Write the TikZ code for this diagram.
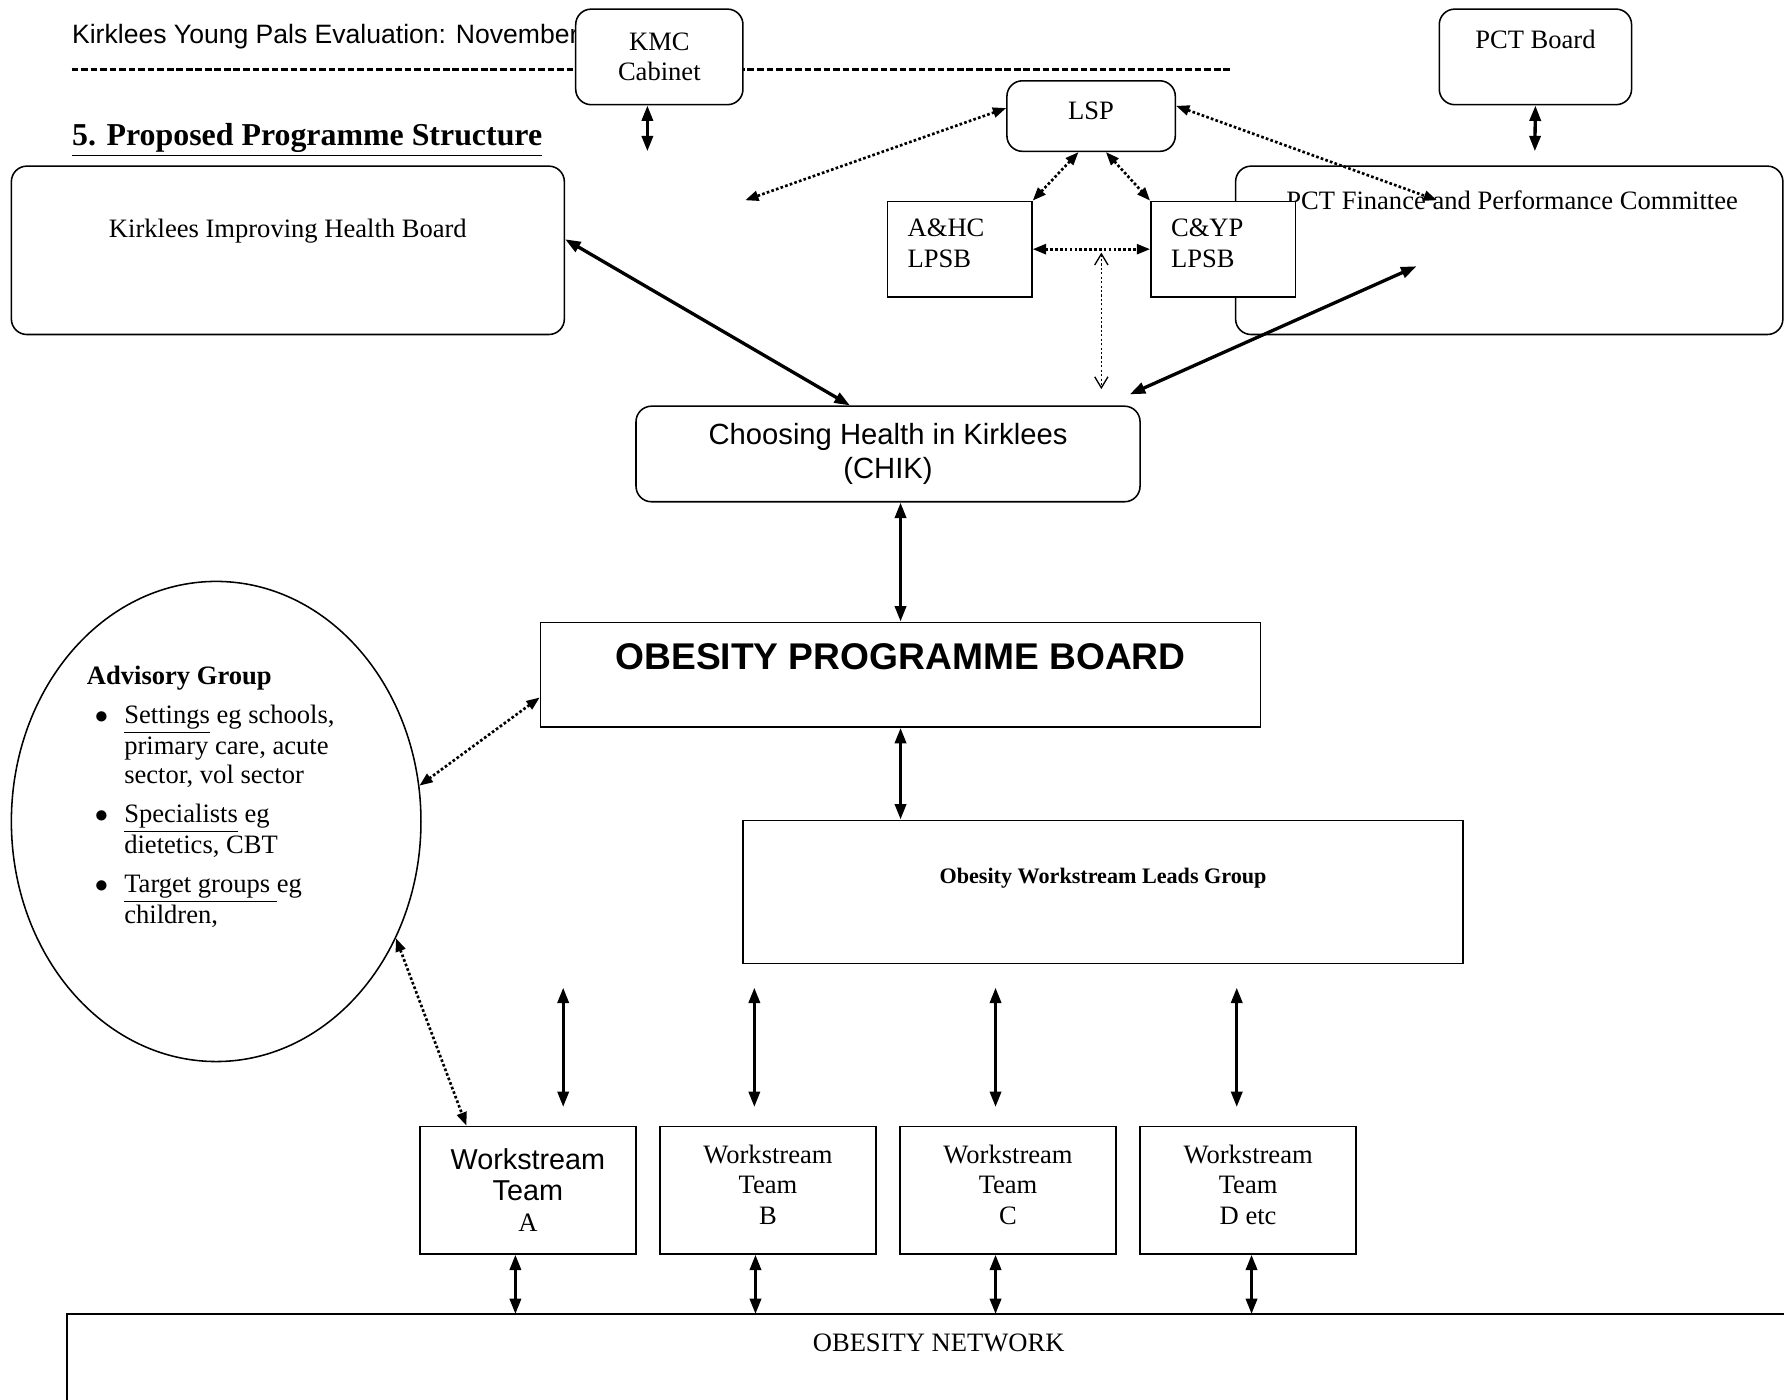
\documentclass[tikz,border=0pt]{standalone}
\usepackage{fontspec}
\setmainfont{Liberation Serif}
\newfontfamily\arialfont{Liberation Sans}
\usetikzlibrary{arrows.meta,shapes.geometric,positioning,calc}

\newlength{\unitpx}
\setlength{\unitpx}{0.514pt}
\newcommand{\wsfont}{\arialfont\fontsize{13}{15}\selectfont}

\tikzstyle{rbox} = [
    rectangle, rounded corners=7pt,
    draw, line width=0.7pt,
    fill=white,
]
\tikzstyle{sbox} = [
    rectangle,
    draw, line width=0.7pt,
    fill=white,
]
\tikzset{sz/.style 2 args={minimum width=#1*\unitpx, minimum height=#2*\unitpx}}
\tikzstyle{lpsb} = [
    sbox, sz={127}{84},
    align=left, text width=47pt, inner xsep=9pt,
    text depth=19pt,
]
\tikzstyle{link} = [<->, >={Triangle[length=7pt,width=5pt]}, line width=1.5pt]
\tikzstyle{dotlink} = [<->, >={Triangle[length=6pt,width=4.5pt]}, line width=1.2pt, dash pattern=on 1.2pt off 1pt]
\tikzstyle{openlink} = [<->, >={Straight Barb[length=5pt,width=6pt]}, line width=0.6pt, dash pattern=on 1pt off 1pt]

\begin{document}
\begin{tikzpicture}[x=\unitpx, y=-\unitpx, font=\fontsize{12}{13.8}\selectfont]
    \useasboundingbox (0,0) rectangle (1568,1230);

    % page header
    \node[anchor=west, inner sep=0, font=\arialfont\fontsize{12}{14}\selectfont] (header) at (63,32) {Kirklees Young Pals Evaluation: November};
    \coordinate (rulea) at (63,61);
    \coordinate (ruleb) at (1083,61);
    \draw[line width=1.1pt, dash pattern=on 3pt off 1.3pt] (rulea) -- (ruleb);
    \node[anchor=west, inner sep=0, font=\bfseries\fontsize{14.4}{16}\selectfont] (heading) at (63,123) {\underline{5. Proposed Programme Structure}};

    % top level boxes
    \node[rbox, sz={147}{84}, align=center] (kmc) at (579.5,50) {KMC\\Cabinet};
    \node[rbox, sz={169}{84}] (pctboard) at (1349.5,50) {};
    \node (pctboardtxt) at ([yshift=7.7pt]pctboard.center) {PCT Board};
    \node[rbox, sz={148}{62}, text depth=5pt] (lsp) at (959,102) {LSP};

    \node[rbox, sz={486}{148}] (kihb) at (253,220) {};
    \node (kihbtxt) at ([yshift=8.7pt]kihb.center) {Kirklees Improving Health Board};
    \node[rbox, sz={481}{148}] (pctfin) at (1326.5,220) {};
    \node (pctfintxt) at ([shift={(1.3pt,22.6pt)}]pctfin.center) {PCT Finance and Performance Committee};

    \node[lpsb] (ahc) at (843.5,219) {A\&HC\\LPSB};
    \node[lpsb] (cyp) at (1075,219) {C\&YP\\LPSB};

    % programme boxes
    \node[rbox, sz={443}{84}, align=center, font=\arialfont\fontsize{13.2}{15}\selectfont] (chik) at (780.5,399) {Choosing Health in Kirklees\\(CHIK)};
    \node[sbox, sz={633}{92}] (opb) at (791.5,593) {};
    \node[font=\arialfont\bfseries\fontsize{16.8}{19}\selectfont] (opbtxt) at ([yshift=8.2pt]opb.center) {OBESITY PROGRAMME BOARD};
    \node[sbox, sz={633}{126}] (owlg) at (969.5,784) {};
    \node[font=\bfseries] (owlgtxt) at ([yshift=6.2pt]owlg.center) {Obesity Workstream Leads Group};

    % advisory group
    \node[ellipse, draw, line width=0.7pt, minimum width=360*\unitpx, minimum height=422*\unitpx] (advisory) at (190,722) {};
    \node[anchor=north west, inner sep=0, font=\fontsize{12}{13.4}\selectfont] (advtxt) at (76,583) {%
        \begin{tabular}{@{\hspace{3.6pt}}p{13.3pt}@{}l@{}}
        \multicolumn{2}{@{}l@{}}{\textbf{Advisory Group}}\\[4.1pt]
        $\bullet$ & \underline{Settings} eg schools,\\
        & primary care, acute\\
        & sector, vol sector\\[4.1pt]
        $\bullet$ & \underline{Specialists} eg\\
        & dietetics, CBT\\[4.1pt]
        $\bullet$ & \underline{Target groups\ }eg\\
        & children,
        \end{tabular}};

    % workstream teams
    \node[sbox, sz={190}{112}, align=center] (ws1) at (464,1046) {{\wsfont Workstream}\\{\wsfont Team}\\A};
    \foreach \x/\t [count=\i from 2] in {675/B, 886/C, 1097/D etc}
        \node[sbox, sz={190}{112}, align=center, text depth=5.2pt] (ws\i) at (\x,1046) {Workstream\\Team\\\t};

    \node[sbox, sz={1532}{104}] (network) at (825,1207) {};
    \node (networktxt) at ([yshift=13.9pt]network.center) {OBESITY NETWORK};

    % arrows
    \coordinate (kmcend) at (569,133);
    \coordinate (pctbend) at (1349,133);
    \draw[link] (kmc.south -| kmcend) -- (kmcend);
    \draw[link] (pctboard.south) -- (pctbend);

    \coordinate (lspleft) at (655,176);
    \coordinate (lspright) at (1263,176);
    \draw[dotlink] ([yshift=3.6pt]lsp.west) -- (lspleft);
    \draw[dotlink] ([yshift=4.6pt]lsp.east) -- (lspright);
    \draw[dotlink] ([xshift=-5.7pt]lsp.south) -- (ahc.north east);
    \draw[dotlink] ([xshift=6.7pt]lsp.south) -- (cyp.north west);
    \draw[dotlink] (ahc.east) -- (cyp.west);
    \coordinate (lpsbtop) at (968,222);
    \coordinate (lpsbbot) at (968,342);
    \draw[openlink] (lpsbtop) -- (lpsbbot);

    \draw[link] ([yshift=5pt]kihb.east) -- ([xshift=-17.2pt]chik.north);
    \coordinate (pctfinend) at (1245,234);
    \draw[link] (pctfinend) -- ([shift={(-5pt,5pt)}]chik.north east);
    \draw[link] (chik.south -| opb.north) -- (opb.north);
    \draw[link] (opb.south) -- (opb.south |- owlg.north);

    \foreach \x [count=\i] in {495,663,875,1087} {
        \coordinate (lead\i) at (\x,868);
        \coordinate (team\i) at (\x,973);
        \draw[link] (lead\i) -- (team\i);
    }
    \foreach \x [count=\i] in {453,664,875,1100} {
        \coordinate (net\i) at (\x,1155);
        \draw[link] (ws\i.south -| net\i) -- (net\i);
    }

    \draw[dotlink] ([yshift=-10.3pt]opb.west) -- (advisory.10);
    \draw[dotlink] (advisory.-33) -- ([xshift=-27.8pt]ws1.north);
\end{tikzpicture}
\end{document}
